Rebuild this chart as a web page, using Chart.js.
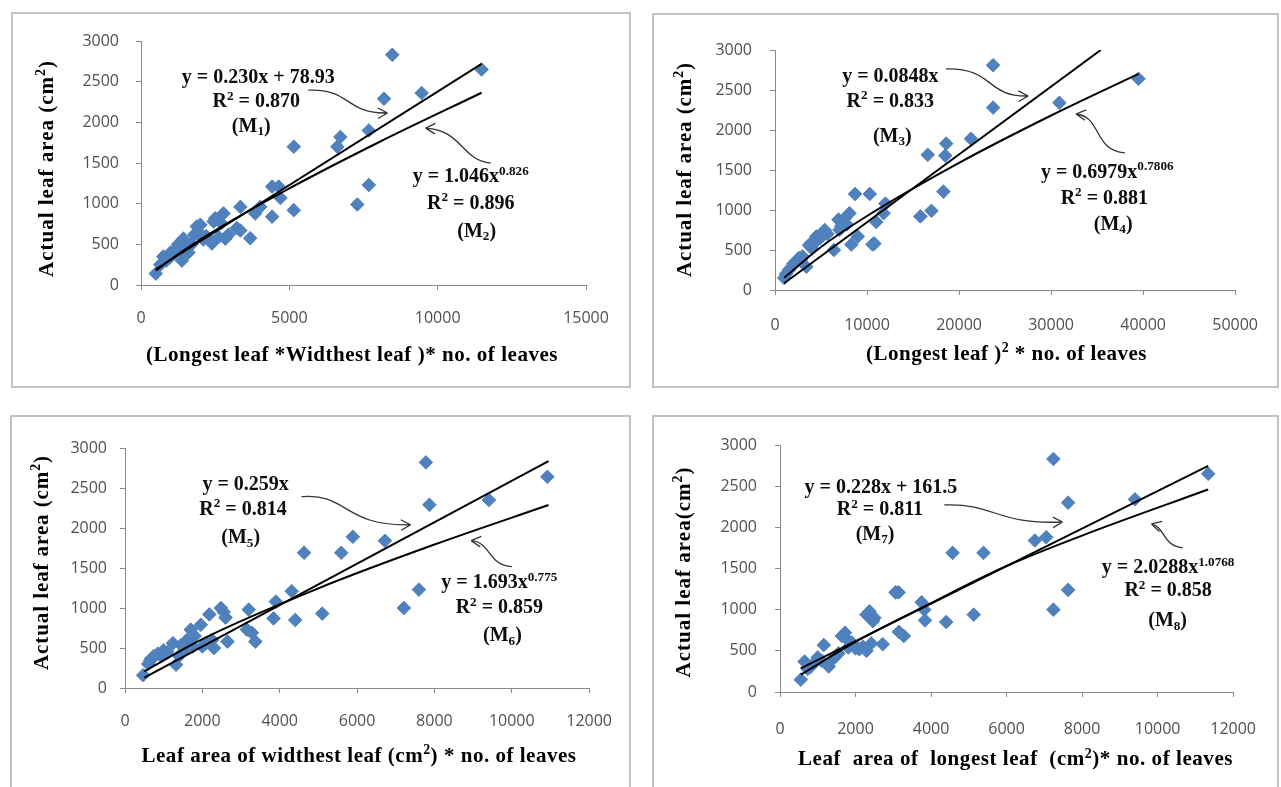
<!DOCTYPE html>
<html><head><meta charset="utf-8">
<script src="https://cdn.jsdelivr.net/npm/chart.js@4.4.1/dist/chart.umd.min.js"></script>
<style>
html,body{margin:0;padding:0;background:#fff;width:1281px;height:787px;overflow:hidden;position:relative}
.frame{position:absolute;border:2px solid #c3c3c3;box-sizing:border-box;pointer-events:none}
canvas{position:absolute}
</style></head><body>
<canvas id="c1" width="620" height="376" style="left:11px;top:12px"></canvas>
<canvas id="c2" width="627" height="375" style="left:652px;top:13px"></canvas>
<canvas id="c3" width="621" height="372" style="left:10px;top:415px"></canvas>
<canvas id="c4" width="627" height="372" style="left:652px;top:415px"></canvas>
<div class="frame" style="left:11px;top:12px;width:620px;height:376px"></div>
<div class="frame" style="left:652px;top:13px;width:627px;height:375px"></div>
<div class="frame" style="left:10px;top:415px;width:621px;height:374px"></div>
<div class="frame" style="left:652px;top:415px;width:627px;height:374px"></div>
<script>
// ---------- data ----------
const p1x = [500,650,750,850,950,1000,1100,1200,1250,1380,1430,1500,1550,1600,1700,1800,1880,1950,2000,2100,2200,2300,2390,2450,2500,2620,2700,2780,2840,2950,3230,3350,3350,3680,3850,4020,4420,4420,4640,4700,5150,5150,6620,6720,7680,7290,7680,8190,8470,9460,11480];
const p1y = [140,250,350,300,330,400,380,450,500,300,570,420,460,400,500,620,720,650,740,560,600,560,510,780,820,590,760,880,570,620,700,960,670,575,880,960,840,1210,1210,1070,1700,920,1700,1820,1900,990,1230,2290,2830,2360,2650];
const m1x = [500,11480];
const m1y = [194,2719];
const m2x = [500,1000,2000,3000,5000,8000,11480];
const m2y = [177,314,558,779,1188,1752,2364];

const p2x = [1000,1200,1500,1800,2000,2300,2600,2800,3000,3400,3700,3900,4000,4300,4500,4600,4900,5100,5200,5400,5700,6400,6900,7000,7200,7600,7800,8100,8300,8700,9000,10300,10600,10800,11000,11800,12000,15800,16600,17000,18300,18500,18600,21300,23700,23700,30900,39500];
const p2y = [150,200,250,290,330,350,400,380,420,290,560,580,520,600,670,625,650,710,680,750,700,500,880,750,800,900,820,960,570,1200,670,1200,570,580,850,960,1080,920,1690,990,1230,1680,1830,1890,2810,2280,2340,2640];
const m3x = [1000,35400];
const m3y = [85,3000];
const m4x = [1000,5000,10000,20000,30000,39500];
const m4y = [153,538,925,1589,2181,2702];

const p3x = [470,600,650,680,750,850,940,1000,1100,1240,1320,1400,1450,1550,1600,1700,1750,1800,1960,2000,2100,2180,2250,2300,2480,2550,2600,2650,3150,3200,3280,3370,3840,3900,4310,4400,4630,5100,5590,5890,6720,7210,7600,7780,7870,9410,10920];
const p3y = [160,300,340,370,400,430,400,470,450,560,290,400,537,480,600,730,520,650,790,520,560,920,600,500,1000,950,880,580,730,980,690,580,870,1080,1210,850,1690,930,1690,1890,1840,1000,1230,2820,2290,2350,2640];
const m5x = [500,10950];
const m5y = [130,2836];
const m6x = [500,2000,5000,8000,10950];
const m6y = [209,612,1246,1793,2287];

const p4x = [550,650,730,800,900,1000,1100,1160,1290,1400,1466,1550,1640,1720,1750,1810,1900,2000,2100,2200,2290,2290,2370,2415,2460,2500,2720,3060,3140,3150,3280,3750,3820,3840,4400,4570,5130,5390,6750,7050,7240,7240,7630,7630,9400,11340];
const p4y = [150,370,280,300,350,420,380,570,310,400,433,470,680,720,650,540,600,530,520,550,500,940,980,590,860,900,580,1210,1210,730,680,1090,1000,870,850,1690,940,1690,1840,1880,2830,1000,2300,1240,2340,2650];
const m7x = [550,11340];
const m7y = [287,2747];
const m8x = [550,2000,4000,6000,8000,11340];
const m8y = [210,610,1080,1530,1900,2460];

const xTicks1 = [0,5000,10000,15000];
const xTicks2 = [0,10000,20000,30000,40000,50000];
const xTicks34 = [0,2000,4000,6000,8000,10000,12000];
const yTicks = [0,500,1000,1500,2000,2500,3000];

// ---------- drawing helpers ----------
const SERIF = "'Liberation Serif','Times New Roman',serif";
const SUP = 0.66;
function richWidth(ctx, parts, size, sp){
  let w = 0;
  for (const [t,m] of parts){ ctx.font = `bold ${m ? size*SUP : size}px ${SERIF}`; ctx.letterSpacing = sp+'px'; w += ctx.measureText(t).width; }
  return w;
}
function drawRich(ctx, parts, cx, cy, size, target){
  let sp = 0;
  if (target){ const n = parts.reduce((a,[t])=>a+t.length,0); sp = (target - richWidth(ctx,parts,size,0))/n; }
  const w = richWidth(ctx, parts, size, sp);
  let x = cx - w/2;
  ctx.textAlign = 'left'; ctx.textBaseline = 'alphabetic';
  const base = cy + size*0.33;
  for (const [t,m] of parts){
    const s = m ? size*SUP : size;
    ctx.font = `bold ${s}px ${SERIF}`; ctx.letterSpacing = sp+'px';
    const dy = m === 1 ? -size*0.36 : (m === -1 ? size*0.18 : 0);
    ctx.fillText(t, x, base+dy);
    x += ctx.measureText(t).width;
  }
  ctx.letterSpacing = '0px';
}
const notesPlugin = {
  id: 'notes',
  afterDatasetsDraw(chart, args, o){
    const ctx = chart.ctx, xs = chart.scales.x, ys = chart.scales.y;
    ctx.save();
    ctx.fillStyle = '#0d0d0d';
    for (const t of o.texts) drawRich(ctx, t.parts, xs.getPixelForValue(t.x), ys.getPixelForValue(t.y), 20, 0);
    ctx.strokeStyle = '#333'; ctx.lineWidth = 1.3;
    for (const a of o.arrows){
      const p = a.map(([x,y]) => [xs.getPixelForValue(x), ys.getPixelForValue(y)]);
      ctx.beginPath(); ctx.moveTo(p[0][0],p[0][1]);
      ctx.bezierCurveTo(p[1][0],p[1][1],p[2][0],p[2][1],p[3][0],p[3][1]);
      const ang = Math.atan2(p[3][1]-p[2][1], p[3][0]-p[2][0]);
      for (const s of [-1,1]){
        ctx.moveTo(p[3][0]-11*Math.cos(ang+s*0.5), p[3][1]-11*Math.sin(ang+s*0.5));
        ctx.lineTo(p[3][0], p[3][1]);
      }
      ctx.stroke();
    }
    ctx.fillStyle = '#000';
    const xt = o.xTitle; drawRich(ctx, xt.parts, xt.cx, xt.cy, 21, xt.w);
    const yt = o.yTitle;
    ctx.translate(yt.cx, yt.cy); ctx.rotate(-Math.PI/2);
    drawRich(ctx, yt.parts, 0, 0, 21, yt.w);
    ctx.restore();
  }
};
function pts(xa, ya){ return xa.map((x,i)=>({x, y: ya[i]})); }
function makePanel(id, d){
  const axisCol = '#8a8a8a';
  new Chart(document.getElementById(id), {
    type: 'scatter',
    data: { datasets: [
      { data: pts(d.px,d.py), pointStyle:'rectRot', pointRadius:6.8, backgroundColor:'#4f81bd', borderColor:'#4f81bd', borderWidth:1, order:2 },
      { type:'line', data: pts(d.ax,d.ay), borderColor:'#000', borderWidth:2, pointRadius:0, fill:false, tension:0, order:1 },
      { type:'line', data: pts(d.bx,d.by), borderColor:'#000', borderWidth:2, pointRadius:0, fill:false, cubicInterpolationMode:'monotone', order:1 }
    ]},
    options: {
      responsive:false, animation:false, events:[],
      layout:{ padding: d.pad },
      plugins:{ legend:{display:false}, tooltip:{enabled:false}, notes: d.notes },
      scales:{
        x:{ type:'linear', min:0, max:d.xTicks[d.xTicks.length-1],
          afterBuildTicks: s => { s.ticks = d.xTicks.map(v=>({value:v})); },
          afterFit: s => { s.height = d.xh; },
          ticks:{ callback: v => String(v), padding:d.xpad, maxRotation:0, font:{family:"'Open Sans'", size:16}, color:'#505050' },
          grid:{ display:true, drawOnChartArea:false, drawTicks:true, tickLength:5, color:axisCol },
          border:{ display:true, color:axisCol, width:1 } },
        y:{ min:0, max:3000,
          afterBuildTicks: s => { s.ticks = yTicks.map(v=>({value:v})); },
          afterFit: s => { s.width = d.yw; },
          ticks:{ callback: v => String(v), padding:d.ypad, font:{family:"'Open Sans'", size:16}, color:'#505050' },
          grid:{ display:true, drawOnChartArea:false, drawTicks:true, tickLength:5, color:axisCol },
          border:{ display:true, color:axisCol, width:1 } }
      }
    },
    plugins:[notesPlugin]
  });
}
const R2 = v => [['R'],['2',1],[' = '+v]];
const M = n => [['(M'],[n,-1],[')']];
const yTitle = [['Actual leaf area (cm'],['2',1],[')']];

makePanel('c1', { px:p1x, py:p1y, ax:m1x, ay:m1y, bx:m2x, by:m2y, xTicks:xTicks1,
  pad:{left:0, top:29, right:45, bottom:0}, yw:130, xh:103, xpad:19, ypad:17,
  notes:{ texts:[
    {x:3952,y:2568,parts:[['y = 0.230x + 78.93']]}, {x:3885,y:2273,parts:R2('0.870')}, {x:3716,y:1966,parts:M('1')},
    {x:11114,y:1351,parts:[['y = 1.046x'],['0.826',1]]}, {x:11114,y:1020,parts:R2('0.896')}, {x:11316,y:676,parts:M('2')} ],
    arrows:[ [[5640,2395],[7060,2420],[6890,2100],[8310,2115]], [[11790,1499],[10776,1536],[10843,1904],[9594,1929]] ],
    xTitle:{cx:341, cy:342, w:412, parts:[['(Longest leaf *Widthest leaf )* no. of leaves']]},
    yTitle:{cx:35, cy:156.5, w:217, parts:yTitle} } });

makePanel('c2', { px:p2x, py:p2y, ax:m3x, ay:m3y, bx:m4x, by:m4y, xTicks:xTicks2,
  pad:{left:0, top:37, right:33, bottom:0}, yw:123, xh:98, xpad:21, ypad:18,
  notes:{ texts:[
    {x:12532,y:2688,parts:[['y = 0.0848x']]}, {x:12532,y:2375,parts:R2('0.833')}, {x:12744,y:1938,parts:M('3')},
    {x:36108,y:1488,parts:[['y = 0.6979x'],['0.7806',1]]}, {x:35789,y:1163,parts:R2('0.881')}, {x:36745,y:838,parts:M('4')} ],
    arrows:[ [[18585,2763],[23895,2775],[22833,2413],[27506,2425]], [[38020,1713],[34515,1750],[35577,2163],[32710,2200]] ],
    xTitle:{cx:354.5, cy:340, w:281, parts:[['(Longest leaf )'],['2',1],[' * no. of leaves']]},
    yTitle:{cx:32, cy:156.5, w:215, parts:yTitle} } });

makePanel('c3', { px:p3x, py:p3y, ax:m5x, ay:m5y, bx:m6x, by:m6y, xTicks:xTicks34,
  pad:{left:0, top:33, right:38, bottom:0}, yw:115, xh:99, xpad:19, ypad:13,
  notes:{ texts:[
    {x:3120,y:2563,parts:[['y = 0.259x']]}, {x:3051,y:2250,parts:R2('0.814')}, {x:2992,y:1895,parts:M('5')},
    {x:9679,y:1333,parts:[['y = 1.693x'],['0.775',1]]}, {x:9679,y:1020,parts:R2('0.859')}, {x:9759,y:666,parts:M('6')} ],
    arrows:[ [[4564,2391],[5769,2441],[5641,2016],[7384,2041]], [[10000,1516],[9359,1541],[9487,1816],[8949,1841]] ],
    xTitle:{cx:349, cy:340, w:435, parts:[['Leaf area of widthest leaf (cm'],['2',1],[') * no. of leaves']]},
    yTitle:{cx:31, cy:147.5, w:215, parts:yTitle} } });

makePanel('c4', { px:p4x, py:p4y, ax:m7x, ay:m7y, bx:m8x, by:m8y, xTicks:xTicks34,
  pad:{left:0, top:30, right:35.5, bottom:0}, yw:128, xh:95, xpad:23, ypad:18,
  notes:{ texts:[
    {x:2672,y:2494,parts:[['y = 0.228x + 161.5']]}, {x:2647,y:2232,parts:R2('0.811')}, {x:2517,y:1929,parts:M('7')},
    {x:10278,y:1524,parts:[['y = 2.0288x'],['1.0768',1]]}, {x:10278,y:1241,parts:R2('0.858')}, {x:10265,y:877,parts:M('8')} ],
    arrows:[ [[4351,2272],[5699,2296],[5699,2029],[7484,2065]], [[10666,1750],[10097,1787],[10226,1993],[9838,2041]] ],
    xTitle:{cx:363.5, cy:343.5, w:435, parts:[['Leaf  area of  longest leaf  (cm'],['2',1],[')* no. of leaves']]},
    yTitle:{cx:31, cy:157, w:211, parts:[['Actual leaf area(cm'],['2',1],[')']]} } });
</script>
</body></html>
